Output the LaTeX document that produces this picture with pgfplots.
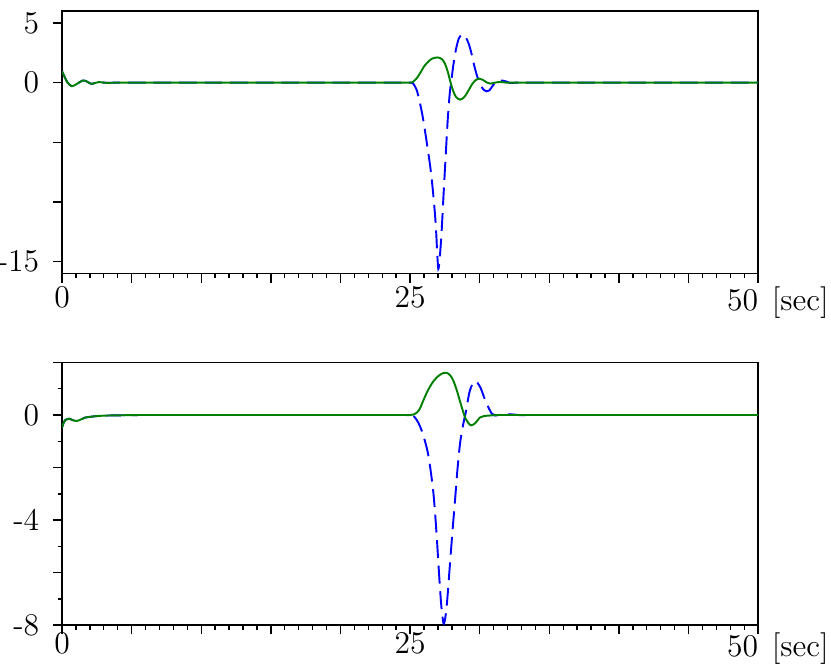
\documentclass[border=0pt]{standalone}
\usepackage{pgfplots}
\pgfplotsset{compat=1.18}
\definecolor{cblue}{RGB}{0,0,255}
\definecolor{cgreen}{RGB}{0,128,0}

% time responses
\newcommand{\startup}{(0,0.95) (0.2,0.45) (0.4,0.0) (0.7,-0.3) (1.0,-0.15) (1.5,0.18) (1.8,0.08) (2.1,-0.1) (2.4,-0.02) (2.65,0.05) (3.0,0.0) (3.3,-0.02) (3.8,0) (4.5,0) (5.5,0) (7,0) (9,0) (12,0) (16,0) (20,0) (22,0) (23.4,0) (24.2,0) (24.7,0) }
\newcommand{\startupb}{(0,-0.48) (0.1,-0.32) (0.25,-0.18) (0.5,-0.14) (0.8,-0.2) (1.05,-0.23) (1.35,-0.17) (1.65,-0.1) (2.0,-0.07) (2.5,-0.04) (3.2,-0.02) (4.2,-0.01) (5.5,0) (7.5,0) (10,0) (14,0) (18,0) (21,0) (23,0) (24.2,0) (24.7,0) }
\newcommand{\tail}{(33.6,0) (34.5,0) (36,0) (38.5,0) (42,0) (46,0) (50,0) }

\pgfplotsset{
  panel/.style={
    scale only axis,
    width=253.1pt, height=95.5pt,
    xmin=0, xmax=50,
    xtick={0,5,...,50},
    minor x tick num=4,
    xticklabels={0,,,,,25,,,,,\llap{50}\rlap{\hspace{5pt}[sec]}},
    tick align=outside,
    xtick pos=lower, ytick pos=left,
    major tick length=3.3pt, minor tick length=1.6pt,
    tick style={black, line width=0.5pt},
    axis line style={line width=0.6pt},
    ticklabel style={font=\fontsize{11.5}{13}\selectfont},
    yticklabel style={xshift=-1.5pt},
  },
  blueline/.style={cblue, line width=0.7pt, dash pattern=on 6.5pt off 2.8pt, smooth},
  greenline/.style={cgreen, line width=0.7pt, smooth},
}

\begin{document}
\begin{tikzpicture}
\begin{axis}[panel, at={(0,127.8pt)},
  xticklabel style={yshift=2.2pt},
  ymin=-16, ymax=6,
  ytick={-15,-10,...,5},
  yticklabels={-15,,,0,5}]
\addplot[blueline] coordinates {
  \startup
  (25.0,0) (25.2,-0.05) (25.5,-0.7) (25.8,-2.2) (26.0,-3.5) (26.3,-5.8) (26.5,-7.5)
  (26.7,-9.8) (26.85,-12.0) (26.95,-14.3) (27.03,-15.6) (27.12,-14.8) (27.25,-12.8)
  (27.4,-9.5) (27.55,-6.3) (27.7,-3.2) (27.85,-0.9) (27.95,0) (28.1,1.4) (28.3,2.8)
  (28.5,3.7) (28.7,4.0) (28.83,4.02) (29.0,3.8) (29.2,3.3) (29.4,2.5) (29.55,1.7)
  (29.8,0.6) (30.03,-0.1) (30.25,-0.55) (30.5,-0.73) (30.7,-0.65) (30.97,-0.2)
  (31.2,0.05) (31.6,0.18) (31.9,0.1) (32.2,-0.03) (32.6,0) (33.1,0) \tail
};
\addplot[greenline] coordinates {
  \startup
  (25.0,0) (25.2,0.05) (25.5,0.4) (25.8,0.95) (26.0,1.35) (26.3,1.75) (26.6,2.02)
  (27.0,2.11) (27.3,1.95) (27.5,1.6) (27.7,0.95) (27.9,0.05) (28.1,-0.7) (28.3,-1.2)
  (28.6,-1.42) (28.9,-1.2) (29.2,-0.65) (29.5,-0.05) (29.7,0.2) (29.95,0.34)
  (30.2,0.25) (30.5,0.02) (30.75,-0.08) (31.1,0.0) (31.5,0.06) (31.9,0) (32.4,0)
  (33.0,0) \tail
};
\end{axis}

\begin{axis}[panel, at={(0,0)},
  xticklabel style={yshift=4pt},
  ymin=-8, ymax=2,
  ytick={-8,-6,...,2},
  minor ytick={-7,-5,...,1},
  yticklabels={-8,,-4,,0,}]
\addplot[blueline] coordinates {
  \startupb
  (25.0,0) (25.3,-0.06) (25.6,-0.3) (25.84,-0.6) (26.1,-1.05) (26.3,-1.5)
  (26.5,-2.2) (26.7,-3.1) (26.9,-4.5) (27.1,-6.2) (27.25,-7.3) (27.4,-7.93)
  (27.52,-7.75) (27.66,-7.1) (27.87,-5.64) (28.05,-4.4) (28.23,-3.24) (28.4,-2.1)
  (28.59,-1.08) (28.8,-0.4) (29.0,0.1) (29.3,0.94) (29.67,1.29) (30.03,1.07)
  (30.3,0.7) (30.5,0.43) (30.86,0.06) (31.1,-0.02) (31.6,0.02) (32.2,0.03)
  (32.8,0) \tail
};
\addplot[greenline] coordinates {
  \startupb
  (25.0,0) (25.24,0.02) (25.5,0.1) (25.7,0.24) (25.95,0.55) (26.2,0.85) (26.45,1.1)
  (26.7,1.3) (27.0,1.47) (27.3,1.58) (27.63,1.61) (27.9,1.5) (28.1,1.32) (28.35,0.95)
  (28.6,0.5) (28.8,0.15) (29.0,-0.15) (29.36,-0.39) (29.7,-0.3) (30.0,-0.1)
  (30.3,-0.04) (30.7,-0.02) (31.2,0) (31.8,0) (32.6,0) \tail
};
\end{axis}

\pgfresetboundingbox
\path (-22.55pt,-14.9pt) rectangle (279.6pt,227.3pt);
\end{tikzpicture}
\end{document}
